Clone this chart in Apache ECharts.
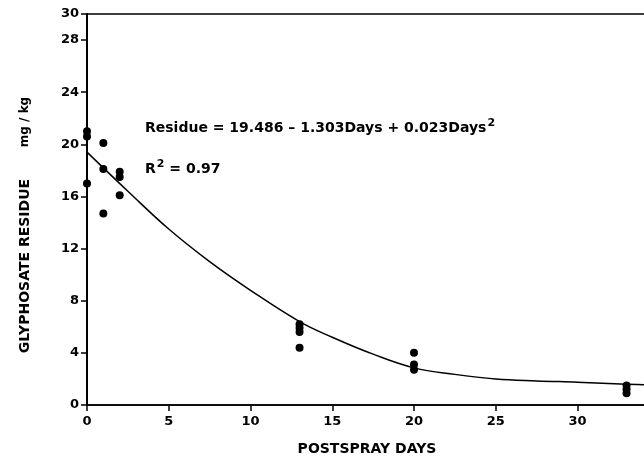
<!DOCTYPE html>
<html>
<head>
<meta charset="utf-8">
<script src="https://cdn.jsdelivr.net/npm/echarts@6/dist/echarts.min.js"></script>
<style>
html,body{margin:0;padding:0;background:#fff;}
#chart{width:644px;height:464px;}
</style>
</head>
<body>
<div id="chart"></div>
<script>
// Observed residues (days after spray, mg/kg)
const obsDays   = [0, 0, 0, 1, 1, 1, 2, 2, 2, 13, 13, 13, 13, 20, 20, 20, 33, 33, 33];
const obsValues = [21.0, 20.6, 17.0, 20.1, 18.1, 14.7, 17.9, 17.5, 16.1, 6.2, 5.9, 5.6, 4.4, 4.0, 3.1, 2.7, 1.5, 1.2, 0.9];

// Fitted curve as drawn on the figure
const curveDays   = [0, 2.5, 5, 7.5, 10, 13, 15, 17.5, 20, 22.5, 25, 27.5, 30, 33, 35];
const curveValues = [19.4, 16.4, 13.5, 11.0, 8.8, 6.4, 5.2, 3.9, 2.85, 2.35, 2.0, 1.85, 1.75, 1.6, 1.5];

const xTicks = [0, 5, 10, 15, 20, 25, 30, 35];
const yTickLabels = [0, 4, 8, 12, 16, 20, 24, 28, 30];

const xTitle = 'POSTSPRAY DAYS';
const yTitleMain = 'GLYPHOSATE RESIDUE';
const yTitleUnit = 'mg / kg';
const eqText = 'Residue = 19.486 \u2013 1.303Days + 0.023Days';
const r2Text = 'R';

const chart = echarts.init(document.getElementById('chart'), null, {renderer: 'canvas'});
const FONT = 'DejaVu Sans';

const richStyles = {
  m: {fontFamily: FONT, fontWeight: 'bold', fontSize: 14, lineHeight: 22, color: '#000', verticalAlign: 'bottom'},
  s: {fontFamily: FONT, fontWeight: 'bold', fontSize: 11, lineHeight: 13, color: '#000', verticalAlign: 'top', padding: [5, 0, 0, 1]}
};

const option = {
  backgroundColor: '#fff',
  animation: false,
  grid: {left: 87, top: 14, width: 654, height: 391, outerBoundsMode: 'none', containLabel: false,
         show: true, borderColor: '#000', borderWidth: 1.5, backgroundColor: 'transparent'},
  xAxis: {
    type: 'value', min: 0, max: 40, interval: 5,
    axisLine: {show: true, lineStyle: {color: '#000', width: 1.5}},
    axisTick: {show: true, length: 6, lineStyle: {color: '#000', width: 1.5}},
    splitLine: {show: false},
    axisLabel: {
      color: '#000', fontFamily: FONT, fontWeight: 'bold', fontSize: 13, margin: 10,
      formatter: v => xTicks.indexOf(v) >= 0 ? String(v) : ''
    }
  },
  yAxis: {
    type: 'value', min: 0, max: 30, interval: 4,
    axisLine: {show: true, lineStyle: {color: '#000', width: 2}},
    axisTick: {show: true, length: 6, lineStyle: {color: '#000', width: 1.5}},
    splitLine: {show: false},
    axisLabel: {
      color: '#000', fontFamily: FONT, fontWeight: 'bold', fontSize: 13, margin: 8,
      formatter: v => yTickLabels.indexOf(v) >= 0 ? String(v) : ''
    }
  },
  series: [
    {
      type: 'line',
      data: curveDays.map((d, i) => [d, curveValues[i]]),
      smooth: 0.4,
      showSymbol: false,
      lineStyle: {color: '#000', width: 1.5},
      z: 2
    },
    {
      type: 'scatter',
      data: obsDays.map((d, i) => [d, obsValues[i]]),
      symbol: 'circle',
      symbolSize: 8,
      itemStyle: {color: '#000', opacity: 1},
      z: 3
    }
  ],
  graphic: [
    {
      type: 'text', x: 0, y: 0,
      style: {text: xTitle, x: 367, y: 449, align: 'center', verticalAlign: 'middle', fill: '#000', font: 'bold 14px "' + FONT + '"'}
    },
    {
      type: 'text', x: 25, y: 266, rotation: Math.PI / 2,
      style: {text: yTitleMain, x: 0, y: 0, align: 'center', verticalAlign: 'middle', fill: '#000', font: 'bold 14px "' + FONT + '"'}
    },
    {
      type: 'text', x: 25, y: 122, rotation: Math.PI / 2,
      style: {text: yTitleUnit, x: 0, y: 0, align: 'center', verticalAlign: 'middle', fill: '#000', font: 'bold 12px "' + FONT + '"'}
    },
    {
      type: 'text', x: 145, y: 113,
      style: {
        text: '{m|' + eqText + '}{s|2}',
        x: 0, y: 0, align: 'left', verticalAlign: 'top',
        rich: richStyles
      }
    },
    {
      type: 'text', x: 145, y: 154,
      style: {
        text: '{m|' + r2Text + '}{s|2}{m| = 0.97}',
        x: 0, y: 0, align: 'left', verticalAlign: 'top',
        rich: richStyles
      }
    }
  ]
};
chart.setOption(option);
</script>
</body>
</html>
